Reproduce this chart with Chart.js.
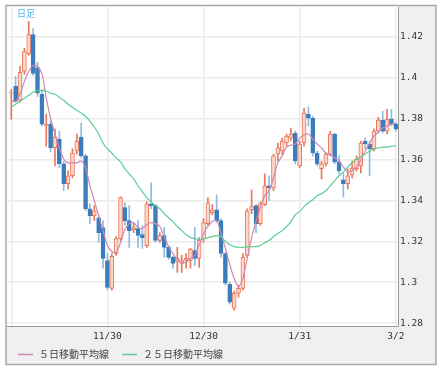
<!DOCTYPE html>
<html>
<head>
<meta charset="utf-8">
<script src="https://cdn.jsdelivr.net/npm/chart.js@4.4.1/dist/chart.umd.min.js"></script>
<style>
  html, body { margin: 0; padding: 0; background: #fff; }
</style>
</head>
<body>
<canvas id="chart" width="443" height="372"></canvas>
<script>
// Daily candles (oldest first)
const opens = [
  1.3923, 1.3957, 1.3889, 1.4030, 1.4117, 1.4210, 1.4049, 1.3918, 1.3763, 1.3772,
  1.3656, 1.3699, 1.3578, 1.3481, 1.3520, 1.3641, 1.3709, 1.3617, 1.3359, 1.3325,
  1.3315, 1.3267, 1.3106, 1.2970, 1.3140, 1.3213, 1.3364, 1.3301, 1.3257, 1.3262,
  1.3233, 1.3179, 1.3383, 1.3374, 1.3204, 1.3228, 1.3170, 1.3121, 1.3102, 1.3092,
  1.3106, 1.3106, 1.3155, 1.3116, 1.3213, 1.3286, 1.3340, 1.3354, 1.3301, 1.3140,
  1.2990, 1.2873, 1.2946, 1.2970, 1.3131, 1.3354, 1.3374, 1.3286, 1.3379, 1.3471,
  1.3461, 1.3626, 1.3641, 1.3680, 1.3704, 1.3729, 1.3568, 1.3680, 1.3821, 1.3801,
  1.3631, 1.3554, 1.3578, 1.3626, 1.3724, 1.3588, 1.3500, 1.3481, 1.3524, 1.3554,
  1.3568, 1.3690, 1.3675, 1.3651, 1.3738, 1.3792, 1.3738, 1.3797, 1.3772
];
const highs = [
  1.3942, 1.4006, 1.4054, 1.4143, 1.4273, 1.4239, 1.4074, 1.3942, 1.3821, 1.3787,
  1.3748, 1.3738, 1.3592, 1.3544, 1.3651, 1.3724, 1.3777, 1.3626, 1.3383, 1.3374,
  1.3325, 1.3301, 1.3140, 1.3140, 1.3223, 1.3417, 1.3388, 1.3374, 1.3286, 1.3301,
  1.3277, 1.3393, 1.3485, 1.3379, 1.3242, 1.3267, 1.3179, 1.3126, 1.3170, 1.3131,
  1.3140, 1.3165, 1.3267, 1.3218, 1.3311, 1.3413, 1.3379, 1.3427, 1.3311, 1.3145,
  1.2999, 1.2956, 1.2985, 1.3140, 1.3359, 1.3451, 1.3379, 1.3393, 1.3529, 1.3520,
  1.3626, 1.3680, 1.3704, 1.3724, 1.3753, 1.3738, 1.3690, 1.3850, 1.3855, 1.3811,
  1.3641, 1.3592, 1.3631, 1.3738, 1.3729, 1.3617, 1.3534, 1.3554, 1.3592, 1.3617,
  1.3690, 1.3704, 1.3690, 1.3748, 1.3806, 1.3835, 1.3845, 1.3845, 1.3782
];
const lows = [
  1.3797, 1.3879, 1.3879, 1.4015, 1.4108, 1.4010, 1.3908, 1.3763, 1.3665, 1.3637,
  1.3568, 1.3558, 1.3447, 1.3456, 1.3510, 1.3626, 1.3607, 1.3349, 1.3286, 1.3301,
  1.3194, 1.3068, 1.2961, 1.2961, 1.3131, 1.3204, 1.3277, 1.3170, 1.3242, 1.3170,
  1.3165, 1.3170, 1.3359, 1.3194, 1.3194, 1.3121, 1.3111, 1.3068, 1.3048, 1.3048,
  1.3068, 1.3068, 1.3082, 1.3072, 1.3194, 1.3277, 1.3330, 1.3291, 1.3121, 1.2985,
  1.2893, 1.2863, 1.2927, 1.2961, 1.3121, 1.3335, 1.3242, 1.3277, 1.3374, 1.3398,
  1.3447, 1.3592, 1.3626, 1.3665, 1.3690, 1.3578, 1.3558, 1.3665, 1.3763, 1.3617,
  1.3568, 1.3505, 1.3568, 1.3617, 1.3578, 1.3529, 1.3417, 1.3456, 1.3510, 1.3544,
  1.3534, 1.3651, 1.3520, 1.3641, 1.3729, 1.3729, 1.3724, 1.3763, 1.3738
];
const closes = [
  1.3928, 1.3884, 1.4025, 1.4127, 1.4210, 1.4020, 1.3923, 1.3772, 1.3772, 1.3656,
  1.3709, 1.3578, 1.3481, 1.3520, 1.3631, 1.3690, 1.3617, 1.3359, 1.3325, 1.3349,
  1.3242, 1.3116, 1.2975, 1.3126, 1.3213, 1.3413, 1.3301, 1.3252, 1.3267, 1.3228,
  1.3218, 1.3383, 1.3374, 1.3204, 1.3228, 1.3170, 1.3121, 1.3092, 1.3116, 1.3106,
  1.3116, 1.3160, 1.3116, 1.3204, 1.3291, 1.3388, 1.3354, 1.3301, 1.3140, 1.2995,
  1.2902, 1.2946, 1.2970, 1.3121, 1.3349, 1.3369, 1.3286, 1.3383, 1.3471, 1.3461,
  1.3617, 1.3656, 1.3690, 1.3714, 1.3724, 1.3592, 1.3675, 1.3826, 1.3801, 1.3631,
  1.3578, 1.3578, 1.3626, 1.3724, 1.3588, 1.3544, 1.3481, 1.3520, 1.3558, 1.3602,
  1.3680, 1.3675, 1.3651, 1.3738, 1.3792, 1.3738, 1.3797, 1.3772, 1.3748
];

// Moving averages as shown on the chart
const ma5 = [
  1.3884, 1.3884, 1.3918, 1.3981, 1.4030, 1.4059, 1.4054, 1.4020, 1.3899, 1.3801,
  1.3724, 1.3656, 1.3602, 1.3583, 1.3583, 1.3583, 1.3592, 1.3558, 1.3471, 1.3398,
  1.3325, 1.3252, 1.3179, 1.3150, 1.3145, 1.3194, 1.3257, 1.3286, 1.3291, 1.3267,
  1.3262, 1.3281, 1.3291, 1.3286, 1.3272, 1.3223, 1.3174, 1.3140, 1.3111, 1.3097,
  1.3097, 1.3116, 1.3131, 1.3184, 1.3238, 1.3272, 1.3296, 1.3301, 1.3238, 1.3165,
  1.3087, 1.3019, 1.2980, 1.3019, 1.3116, 1.3218, 1.3296, 1.3364, 1.3422, 1.3447,
  1.3510, 1.3583, 1.3617, 1.3660, 1.3670, 1.3675, 1.3704, 1.3719, 1.3724, 1.3699,
  1.3675, 1.3656, 1.3631, 1.3622, 1.3607, 1.3592, 1.3563, 1.3539, 1.3544, 1.3563,
  1.3597, 1.3641, 1.3680, 1.3714, 1.3733, 1.3753, 1.3763, 1.3772, 1.3777
];
const ma25 = [
  1.3855, 1.3869, 1.3884, 1.3899, 1.3913, 1.3928, 1.3937, 1.3937, 1.3933, 1.3923,
  1.3918, 1.3903, 1.3889, 1.3869, 1.3855, 1.3840, 1.3826, 1.3811, 1.3787, 1.3758,
  1.3724, 1.3680, 1.3651, 1.3631, 1.3607, 1.3588, 1.3554, 1.3529, 1.3505, 1.3471,
  1.3442, 1.3413, 1.3393, 1.3374, 1.3359, 1.3335, 1.3315, 1.3296, 1.3272, 1.3252,
  1.3233, 1.3218, 1.3213, 1.3208, 1.3213, 1.3218, 1.3223, 1.3228, 1.3223, 1.3199,
  1.3184, 1.3174, 1.3170, 1.3170, 1.3174, 1.3174, 1.3174, 1.3179, 1.3194, 1.3204,
  1.3223, 1.3238, 1.3252, 1.3272, 1.3296, 1.3330, 1.3345, 1.3369, 1.3388, 1.3403,
  1.3422, 1.3432, 1.3447, 1.3471, 1.3495, 1.3520, 1.3539, 1.3563, 1.3583, 1.3602,
  1.3612, 1.3626, 1.3641, 1.3651, 1.3656, 1.3660, 1.3660, 1.3665, 1.3665
];

const xTickIndex = [0, 22, 44, 66, 88];
const xTickLabels = ['', '11/30', '12/30', '1/31', '3/2'];
const yTicks = [1.28, 1.30, 1.32, 1.34, 1.36, 1.38, 1.40, 1.42];

const upLine = '#e8785c', upBody = '#fbd8cb';
const downBody = '#3b7cbc', downWick = '#8fbbe0';
const pink = '#cc88b4', green = '#5ccf95';
const gridColor = '#ebebeb';
const monoFont = { family: 'DejaVu Sans Mono', size: 9.5 };

const up = closes.map((c, i) => c >= opens[i]);

// Panels, outer frame, legend and the 日足 caption
const framePlugin = {
    id: 'frame',
    beforeDraw(chart) {
        const { ctx, chartArea: a } = chart;
        ctx.save();
        ctx.fillStyle = '#fff';
        ctx.fillRect(0, 0, chart.width, chart.height);
        ctx.fillStyle = '#f0f0f0';
        ctx.fillRect(a.right, 5, 436 - a.right, a.bottom - 5);
        ctx.fillRect(6, a.bottom, 430, 364 - a.bottom);
        ctx.restore();
    },
    afterDraw(chart) {
        const { ctx } = chart;
        ctx.save();
        ctx.strokeStyle = '#a9a9a9';
        ctx.lineWidth = 1.5;
        ctx.strokeRect(6, 5.5, 430, 359);

        ctx.fillStyle = '#4fb8ec';
        ctx.font = '9px "Noto Sans CJK JP"';
        ctx.textBaseline = 'middle';
        ctx.fillText('日足', 17, 14);

        let x = 18;
        const y = 354.5;
        ctx.font = '10px "Noto Sans CJK JP"';
        chart.data.datasets.filter(d => d.type === 'line').forEach(d => {
            ctx.strokeStyle = d.borderColor;
            ctx.lineWidth = 1.5;
            ctx.beginPath();
            ctx.moveTo(x, y);
            ctx.lineTo(x + 15, y);
            ctx.stroke();
            ctx.fillStyle = '#444';
            ctx.fillText(d.label, x + 21, y);
            x += 21 + ctx.measureText(d.label).width + 13;
        });
        ctx.restore();
    }
};

new Chart(document.getElementById('chart'), {
    type: 'bar',
    data: {
        datasets: [
            {
                type: 'bar',
                label: 'wick',
                data: highs.map((h, i) => ({ x: i, y: [lows[i], h] })),
                backgroundColor: up.map(u => u ? upLine : downWick),
                barThickness: 1,
                grouped: false,
                order: 3
            },
            {
                type: 'bar',
                label: 'body',
                data: opens.map((o, i) => ({ x: i, y: [o, closes[i]] })),
                backgroundColor: up.map(u => u ? upBody : downBody),
                borderColor: up.map(u => u ? upLine : downBody),
                borderWidth: 1,
                borderSkipped: false,
                barThickness: 4,
                minBarLength: 1,
                grouped: false,
                order: 2
            },
            {
                type: 'line',
                label: '５日移動平均線',
                data: ma5.map((v, i) => ({ x: i, y: v })),
                borderColor: pink,
                borderWidth: 1.2,
                pointRadius: 0,
                tension: 0.3,
                order: 1
            },
            {
                type: 'line',
                label: '２５日移動平均線',
                data: ma25.map((v, i) => ({ x: i, y: v })),
                borderColor: green,
                borderWidth: 1.2,
                pointRadius: 0,
                tension: 0.3,
                order: 0
            }
        ]
    },
    options: {
        responsive: false,
        animation: false,
        events: [],
        layout: { padding: { top: 6, left: 7, right: 7, bottom: 28 } },
        plugins: {
            legend: { display: false },
            tooltip: { enabled: false }
        },
        scales: {
            x: {
                type: 'linear',
                min: -0.98,
                max: 88.5,
                offset: false,
                afterBuildTicks: s => { s.ticks = xTickIndex.map(v => ({ value: v })); },
                afterFit: s => { s.height = 18; },
                grid: { color: gridColor, lineWidth: 1.5, drawTicks: false, offset: false },
                border: { color: '#9a9a9a', width: 1 },
                ticks: {
                    padding: 5,
                    maxRotation: 0,
                    autoSkip: false,
                    color: '#333',
                    font: monoFont,
                    callback: v => xTickLabels[xTickIndex.indexOf(v)]
                }
            },
            y: {
                position: 'right',
                min: 1.2786,
                max: 1.4341,
                afterBuildTicks: s => { s.ticks = yTicks.map(v => ({ value: v })); },
                afterFit: s => { s.width = 38; },
                grid: { color: gridColor, lineWidth: 1.5, drawTicks: false },
                border: { color: '#9a9a9a', width: 1 },
                ticks: {
                    padding: 2,
                    color: '#333',
                    font: monoFont,
                    callback: v => String(Math.round(v * 100) / 100)
                }
            }
        }
    },
    plugins: [framePlugin]
});
</script>
</body>
</html>
